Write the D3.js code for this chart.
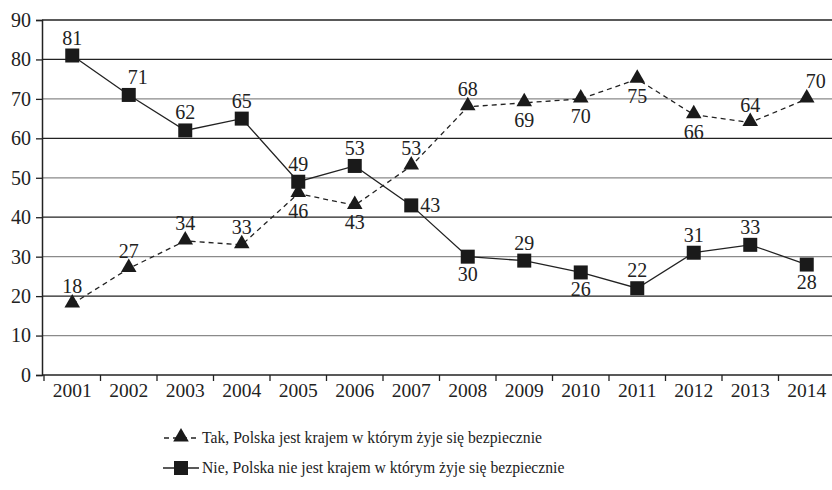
<html>
<head>
<meta charset="utf-8">
<title>Bezpieczeństwo w Polsce</title>
<script src="https://d3js.org/d3.v7.min.js"></script>
<style>
  body { margin: 0; background: #fff; }
</style>
</head>
<body>
<div id="chart"></div>
<script>
const years = ["2001","2002","2003","2004","2005","2006","2007","2008","2009","2010","2011","2012","2013","2014"];
const takValues = [18, 27, 34, 33, 46, 43, 53, 68, 69, 70, 75, 66, 64, 70];
const nieValues = [81, 71, 62, 65, 49, 53, 43, 30, 29, 26, 22, 31, 33, 28];
// where each data label sits relative to its marker
const takLabelPos = ["up","up","up","up","down","down","up","up","down","down","down","down","up","upright"];
const nieLabelPos = ["up","upright","up","up","up","up","right","down","up","down","up","up","up","down"];
const yTicks = [0, 10, 20, 30, 40, 50, 60, 70, 80, 90];
const legendLabels = [
  "Tak, Polska jest krajem w którym żyje się bezpiecznie",
  "Nie, Polska nie jest krajem w którym żyje się bezpiecznie"
];

const width = 832, height = 490;
const margin = {top: 20, right: -3, bottom: 115, left: 42};
const serif = '"Liberation Serif"';

const svg = d3.select("#chart").append("svg").attr("width", width).attr("height", height);

const x = d3.scaleBand().domain(years).range([margin.left + 2, width - margin.right]).padding(0);
const y = d3.scaleLinear().domain([0, 90]).range([height - margin.bottom, margin.top]);
const cx = d => x(d) + x.bandwidth() / 2;

// grid lines: even decades dark, odd decades grey
svg.append("g").selectAll("line").data(yTicks.filter(t => t > 0)).join("line")
  .attr("x1", margin.left).attr("x2", width)
  .attr("y1", d => y(d)).attr("y2", d => y(d))
  .attr("stroke", d => (d % 20 === 0 || d === 90) ? "#222" : "#8a8a8a")
  .attr("stroke-width", 1.3);

// y axis
const yAxis = svg.append("g").attr("transform", `translate(${margin.left},0)`)
  .call(d3.axisLeft(y).tickValues(yTicks).tickSize(6).tickPadding(5));
yAxis.select(".domain").attr("stroke", "#222").attr("stroke-width", 1.5);
yAxis.selectAll(".tick line").attr("stroke", "#222").attr("stroke-width", 1.3);
yAxis.selectAll(".tick text").attr("fill", "#222")
  .style("font-family", serif).style("font-size", "20px");

// x axis: ticks at band boundaries
const xAxisG = svg.append("g").attr("transform", `translate(0,${y(0)})`);
xAxisG.append("line").attr("x1", margin.left).attr("x2", width)
  .attr("stroke", "#222").attr("stroke-width", 1.5);
xAxisG.selectAll("line.tk").data(years).join("line").attr("class", "tk")
  .attr("x1", d => x(d)).attr("x2", d => x(d)).attr("y1", 0).attr("y2", 6)
  .attr("stroke", "#222").attr("stroke-width", 1.3);
xAxisG.selectAll("text").data(years).join("text")
  .attr("x", d => cx(d)).attr("y", 22).attr("text-anchor", "middle").attr("fill", "#222")
  .style("font-family", serif).style("font-size", "19.5px").text(d => d);

const line = d3.line().x((d, i) => cx(years[i])).y(d => y(d));

// Tak series - dashed, triangles
svg.append("path").datum(takValues).attr("d", line)
  .attr("fill", "none").attr("stroke", "#222").attr("stroke-width", 1.3)
  .attr("stroke-dasharray", "5,4");
const tri = d3.symbol().type(d3.symbolTriangle).size(105);
svg.append("g").selectAll("path").data(takValues).join("path")
  .attr("d", tri)
  .attr("transform", (d, i) => `translate(${cx(years[i])},${y(d) - 1})`)
  .attr("fill", "#1a1a1a");

// Nie series - solid, squares
svg.append("path").datum(nieValues).attr("d", line)
  .attr("fill", "none").attr("stroke", "#222").attr("stroke-width", 1.3);
svg.append("g").selectAll("rect").data(nieValues).join("rect")
  .attr("x", (d, i) => cx(years[i]) - 7).attr("y", d => y(d) - 7)
  .attr("width", 14).attr("height", 14).attr("fill", "#1a1a1a");

function labelXY(pos, px, py) {
  if (pos === "up") return [px, py - 11, "middle"];
  if (pos === "down") return [px, py + 24, "middle"];
  if (pos === "right") return [px + 9, py + 7, "start"];
  if (pos === "upright") return [px - 1, py - 11, "start"];
  return [px, py, "middle"];
}
function drawLabels(values, positions) {
  svg.append("g").selectAll("text").data(values).join("text")
    .each(function(d, i) {
      const [lx, ly, anchor] = labelXY(positions[i], cx(years[i]), y(d));
      d3.select(this).attr("x", lx).attr("y", ly).attr("text-anchor", anchor);
    })
    .attr("fill", "#222")
    .style("font-family", serif).style("font-size", "20px")
    .text(d => d);
}
drawLabels(takValues, takLabelPos);
drawLabels(nieValues, nieLabelPos);

// legend
const legend = svg.append("g");
const ly0 = 443, ly1 = 473;
legend.append("line").attr("x1", 163).attr("x2", 199).attr("y1", ly0 - 5).attr("y2", ly0 - 5)
  .attr("stroke", "#222").attr("stroke-width", 1.3).attr("stroke-dasharray", "5,4").attr("stroke-dashoffset", -1);
legend.append("path").attr("d", tri).attr("transform", `translate(181,${ly0 - 6})`).attr("fill", "#1a1a1a");
legend.append("line").attr("x1", 163).attr("x2", 199).attr("y1", ly1 - 5).attr("y2", ly1 - 5)
  .attr("stroke", "#222").attr("stroke-width", 1.3);
legend.append("rect").attr("x", 174).attr("y", ly1 - 12).attr("width", 14).attr("height", 14).attr("fill", "#1a1a1a");
legend.selectAll("text").data(legendLabels).join("text")
  .attr("x", 202).attr("y", (d, i) => i === 0 ? ly0 : ly1).attr("fill", "#222")
  .style("font-family", serif).style("font-size", "15.7px").text(d => d);
</script>
</body>
</html>
